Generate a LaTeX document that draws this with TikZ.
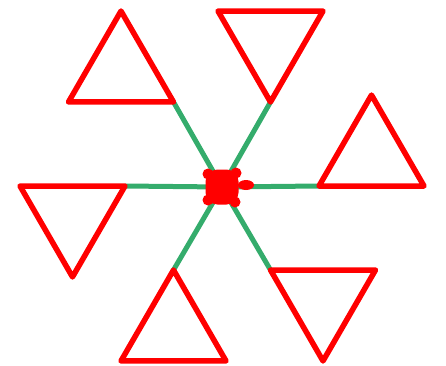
\documentclass[tikz,border=0pt]{standalone}
\usetikzlibrary{calc,backgrounds}
\definecolor{spokegreen}{RGB}{52,172,108}
\definecolor{tri}{RGB}{255,0,0}
\tikzset{
  spoke/.style={draw=spokegreen, line width=5pt},
  tribox/.style={draw=tri, line width=5.5pt, line join=round, line cap=round},
  hubnode/.style={rectangle, rounded corners=12pt, fill=tri, minimum width=33pt, minimum height=35pt, inner sep=0pt},
  bump/.style={fill=tri}
}
\begin{document}
\begin{tikzpicture}[x=1pt,y=1pt]
  \useasboundingbox (-222,-179) rectangle (224,186);
  \node[hubnode] (hub) at (0,-1) {};
  \fill[bump] (-14,12) circle (5.5);
  \fill[bump] (14,13) circle (5.5);
  \fill[bump] (-14,-14) circle (5.5);
  \fill[bump] (13,-16) circle (5.5);
  \fill[bump] (24,1) ellipse (8 and 5);
  \foreach \a/\n in {0/1,60/2,120/3,180/4,240/5,300/6}{
    \coordinate (p\n) at (\a:97);
    \coordinate (q\n) at ($(p\n)+(\a:105)$);
    \coordinate (r\n) at ($(p\n)+(\a+60:105)$);
    \begin{scope}[on background layer]
      \draw[spoke] (hub.center) -- (p\n);
    \end{scope}
    \draw[tribox] (p\n) -- (q\n) -- (r\n) -- cycle;
  }
\end{tikzpicture}
\end{document}
